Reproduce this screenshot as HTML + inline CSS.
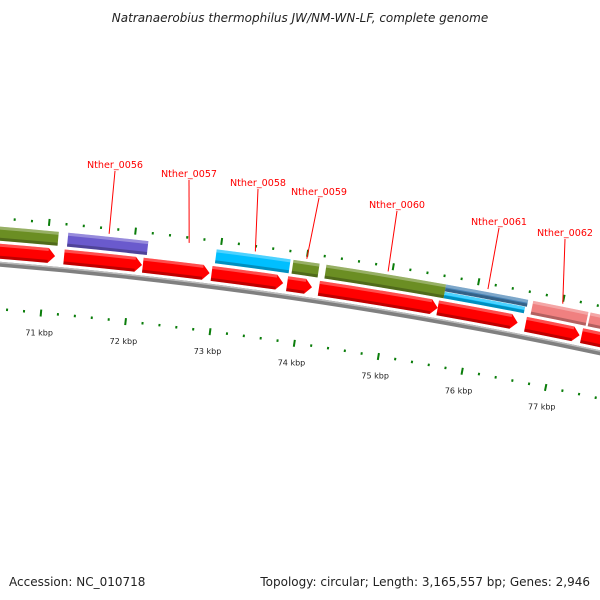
<!DOCTYPE html>
<html><head><meta charset="utf-8"><style>
html,body{margin:0;padding:0;background:#fff;}
svg{display:block;font-family:"DejaVu Sans","Liberation Sans",sans-serif;}
</style></head><body>
<svg id="chart" width="600" height="600" viewBox="0 0 600 600">
<text x="300" y="22" text-anchor="middle" font-size="12" font-style="italic" fill="#222">Natranaerobius thermophilus JW/NM-WN-LF, complete genome</text>
<text x="9" y="586" font-size="12" fill="#222">Accession: NC_010718</text>
<text x="590" y="586" text-anchor="end" font-size="12" fill="#222">Topology: circular; Length: 3,165,557 bp; Genes: 2,946</text>
<g id="plot"></g>
</svg>
<script>
// data
const tickKbp = [71,72,73,74,75,76,77];
const arrowStarts = [69900,71207,72127,72931,73816,74189,75587,76624,77288];
const arrowEnds   = [71103,72118,72908,73770,74108,75587,76531,77265,78000];
const barStarts = [69900,71230,72955,73850,74235,75635,76660,77335];
const barEnds   = [71120,72160,73816,74155,75635,76600,77310,78100];
const barColors = ["#6b8e23","#6a5acd","#00bfff","#6b8e23","#6b8e23","split","#f08080","#f08080"];
const geneLabels = ["Nther_0056","Nther_0057","Nther_0058","Nther_0059","Nther_0060","Nther_0061","Nther_0062"];
const geneBp = [71700,72630,73400,74000,74950,76120,77000];
const labelX = [115,189,258,319,397,499,565];
const labelY = [168,177,186,195,208,225,236];

const NS="http://www.w3.org/2000/svg";
const g=document.getElementById('plot');
const cx=-385, cy=4950;
const th=bp=>0.0916+(bp-71000)*1.827e-5;
const pt=(bp,r)=>[cx+r*Math.sin(th(bp)), cy-r*Math.cos(th(bp))];
function mk(tag,attrs){const e=document.createElementNS(NS,tag);for(const k in attrs)e.setAttribute(k,attrs[k]);g.appendChild(e);return e;}
function f(p){return p[0].toFixed(2)+","+p[1].toFixed(2);}
function arcPath(b0,b1,r0,r1){
  return "M"+f(pt(b0,r1))+" A"+r1+" "+r1+" 0 0 1 "+f(pt(b1,r1))+" L"+f(pt(b1,r0))+" A"+r0+" "+r0+" 0 0 0 "+f(pt(b0,r0))+" Z";
}
function arrowPath(b0,b1,r0,r1){
  const h=Math.min(80,(b1-b0)*0.6), bh=b1-h, rm=(r0+r1)/2;
  return "M"+f(pt(b0,r1))+" A"+r1+" "+r1+" 0 0 1 "+f(pt(bh,r1))+" L"+f(pt(b1,rm))+" L"+f(pt(bh,r0))+" A"+r0+" "+r0+" 0 0 0 "+f(pt(b0,r0))+" Z";
}
// backbone
let e=mk('path',{d:arcPath(69000,79000,4699,4704),fill:"#808080"});


e=mk('path',{d:arcPath(69000,79000,4702.5,4704),fill:"#bbbbbb"});


// ticks
for(let bp=69800;bp<=78400;bp+=200){
  const major=bp%1000===0;
  const a=pt(bp,major?4744:4746), b=pt(bp,major?4751:4748.5);
  e=mk('line',{x1:a[0],y1:a[1],x2:b[0],y2:b[1],stroke:"#0a7d0a","stroke-width":2});
  
  
  const c=pt(bp,major?4653:4655.5), d=pt(bp,major?4660:4658);
  e=mk('line',{x1:c[0],y1:c[1],x2:d[0],y2:d[1],stroke:"#0a7d0a","stroke-width":2});
  
  
}
tickKbp.forEach(k=>{
  const p=pt(k*1000,4637);
  e=mk('text',{x:p[0],y:p[1]+3,"text-anchor":"middle","font-size":"8","fill":"#222"});
  e.textContent=k+" kbp";
  
  
});
// bars
function shade(b0,b1,r0,r1){
  e=mk('path',{d:arcPath(b0,b1,r1-3,r1),fill:"#fff","fill-opacity":0.3});
  
  
  e=mk('path',{d:arcPath(b0,b1,r0,r0+3),fill:"#000","fill-opacity":0.25});
  
  
}
barStarts.forEach((s,i)=>{
  const c=barColors[i];
  if(c==="split"){
    e=mk('path',{d:arcPath(s,barEnds[i],4732,4739),fill:"#4682b4"});
    
    
    shade(s,barEnds[i],4732,4739);
    e=mk('path',{d:arcPath(s,barEnds[i]-20,4725,4731.5),fill:"#00bfff"});
    
    
    shade(s,barEnds[i]-20,4725,4731.5);
  } else {
    e=mk('path',{d:arcPath(s,barEnds[i],4725,4739),fill:c});
    
    
    shade(s,barEnds[i],4725,4739);
  }
});
// arrows
arrowStarts.forEach((s,i)=>{
  e=mk('path',{d:arrowPath(s,arrowEnds[i],4707,4722),fill:"#ff0000"});
  
  
  e=mk('path',{d:arcPath(s,arrowEnds[i]-80,4719,4722),fill:"#fff","fill-opacity":0.3});
  
  
  e=mk('path',{d:arcPath(s,arrowEnds[i]-80,4707,4710),fill:"#000","fill-opacity":0.25});
  
  
});
// labels
geneLabels.forEach((t,i)=>{
  const p=pt(geneBp[i],4742);
  e=mk('line',{x1:labelX[i],y1:labelY[i]+3,x2:p[0],y2:p[1],stroke:"#ff0000","stroke-width":1});
  
  
  e=mk('text',{x:labelX[i],y:labelY[i],"text-anchor":"middle","font-size":"9.6","fill":"#ff0000"});
  e.textContent=t;
  
  
});
</script>
</body></html>
